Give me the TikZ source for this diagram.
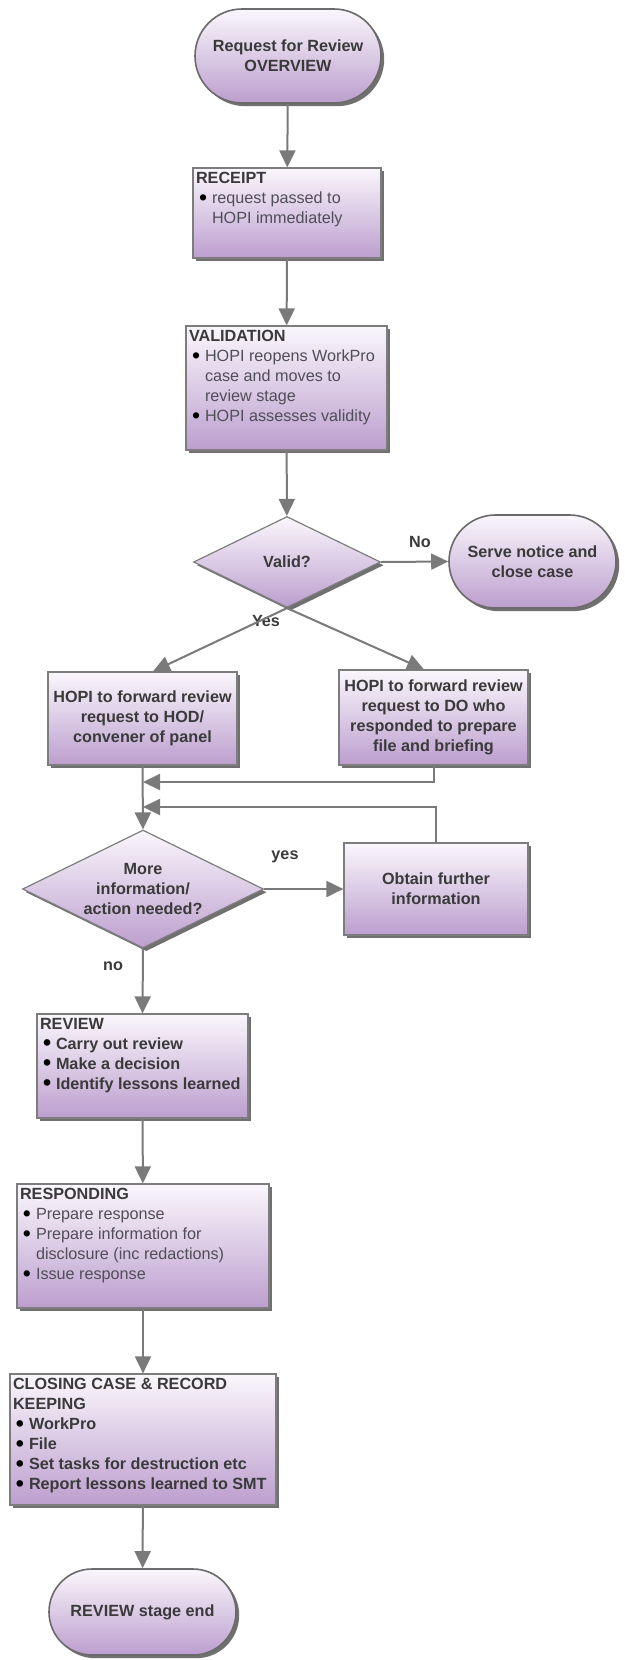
\documentclass[tikz,border=0pt]{standalone}
\usepackage{fontspec}
\setmainfont{Liberation Sans}
\usetikzlibrary{shapes.geometric,shapes.misc,shadows,arrows.meta}

\definecolor{lavtop}{RGB}{250,247,252}
\definecolor{lavbot}{RGB}{188,158,206}
\definecolor{boxline}{RGB}{125,125,125}
\definecolor{flowgray}{RGB}{122,122,122}
\definecolor{txt}{RGB}{58,58,58}
\definecolor{bultxt}{RGB}{80,78,88}

\newcommand{\bul}{\hspace*{1.5pt}\makebox[6.5pt][l]{\color{black}\raisebox{-0.9pt}{\fontsize{11.5}{10}\selectfont\textbullet}}}
\newcommand{\cont}{\hspace*{8pt}}
\newcommand{\stagetxt}[3]{\parbox[c][#2][t]{#1}{\raggedright #3}}

\tikzset{
  fill lav/.style={top color=lavtop,bottom color=lavbot,
    drop shadow={shadow xshift=1.6pt,shadow yshift=-1.6pt,opacity=.75,fill=black!75}},
  stage/.style={rectangle,draw=boxline,line width=.6pt,fill lav,
    inner xsep=1.5pt,inner ysep=2pt,text=txt},
  proc/.style={rectangle,draw=boxline,line width=.6pt,fill lav,align=center,
    inner sep=1pt,text=txt,font=\fontsize{8.1}{10}\selectfont\bfseries},
  term/.style={rounded rectangle,draw=boxline!85!black,line width=.8pt,fill lav,align=center,
    inner sep=1pt,text=txt,font=\fontsize{8.1}{10}\selectfont\bfseries},
  decide/.style={diamond,aspect=2,draw=boxline,line width=.6pt,fill lav,align=center,
    inner sep=0pt,text=txt,font=\fontsize{8.1}{10}\selectfont\bfseries},
  lbl/.style={text=txt,font=\fontsize{8.1}{10}\selectfont\bfseries},
  flow/.style={draw=flowgray,line width=1pt,-{Triangle[length=8.5pt,width=8pt]}}
}

\begin{document}
\begin{tikzpicture}[x=0.5pt,y=-0.5pt,font=\fontsize{8.1}{10}\selectfont]
  \useasboundingbox (0,0) rectangle (625,1660);

  \node[term,minimum width=95pt,minimum height=47pt] (start) at (288,56) {Request for Review\\OVERVIEW};

  \node[stage] (receipt) at (287,213) {\stagetxt{91pt}{41pt}{\textbf{RECEIPT}\\
    \color{bultxt}\bul request passed to\\
    \cont HOPI immediately}};

  \node[stage] (validation) at (286.5,388) {\stagetxt{97.5pt}{58pt}{\textbf{VALIDATION}\\
    \color{bultxt}\bul HOPI reopens WorkPro\\
    \cont case and moves to\\
    \cont review stage\\
    \bul HOPI assesses validity}};

  \node[decide,minimum width=93.5pt,minimum height=45.5pt] (valid) at (287,562) {Valid?};
  \node[term,minimum width=85.5pt,minimum height=46.5pt] (serve) at (532.5,561.5) {Serve notice and\\close case};
  \node[lbl] (nolbl) at (420,542) {No};
  \node[lbl] (yeslbl) at (266,621) {Yes};

  \node[proc,minimum width=94.5pt,minimum height=46.5pt] (hod) at (142.5,718.5) {HOPI to forward review\\request to HOD/\\convener of panel};
  \node[proc,minimum width=94.5pt,minimum height=47.5pt] (do) at (433.5,717.5) {HOPI to forward review\\request to DO who\\responded to prepare\\file and briefing};

  \coordinate (joinA) at (143,782);
  \coordinate (joinB) at (143,807);

  \node[decide,minimum width=120.5pt,minimum height=59pt] (needed) at (143,889) {More\\information/\\action needed?};
  \node[proc,minimum width=92pt,minimum height=46pt] (obtain) at (436,889) {Obtain further\\information};
  \node[lbl] (yes2lbl) at (285,857) {yes};
  \node[lbl] (no2lbl) at (113,966) {no};

  \node[stage] (review) at (142.5,1066) {\stagetxt{102.5pt}{48pt}{\bfseries REVIEW\\
    \bul Carry out review\\
    \bul Make a decision\\
    \bul Identify lessons learned}};

  \node[stage] (responding) at (143,1246) {\stagetxt{123pt}{58pt}{\textbf{RESPONDING}\\
    \color{bultxt}\bul Prepare response\\
    \bul Prepare information for\\
    \cont disclosure (inc redactions)\\
    \bul Issue response}};

  \node[stage] (closing) at (143,1439.5) {\stagetxt{130pt}{61.5pt}{\bfseries CLOSING CASE \& RECORD\\
    KEEPING\\
    \bul WorkPro\\
    \bul File\\
    \bul Set tasks for destruction etc\\
    \bul Report lessons learned to SMT}};

  \node[term,minimum width=95.5pt,minimum height=43pt] (finish) at (142.5,1612) {REVIEW stage end};

  \draw[flow] (start) -- (receipt);
  \draw[flow] (receipt) -- (validation);
  \draw[flow] (validation) -- (valid);
  \draw[flow] (valid.east) -- (serve.west);
  \draw[flow] (valid.south) -- ([xshift=5.25pt]hod.north);
  \draw[flow] (valid.south) -- ([xshift=-4.75pt]do.north);
  \draw[flow] (hod.south) -- (needed.north);
  \draw[flow] (do.south) |- (joinA);
  \draw[flow] (obtain.north) |- (joinB);
  \draw[flow] (needed.east) -- (obtain.west);
  \draw[flow] (needed.south) -- (review.north);
  \draw[flow] (review) -- (responding);
  \draw[flow] (responding) -- (closing);
  \draw[flow] (closing) -- (finish);
\end{tikzpicture}
\end{document}
